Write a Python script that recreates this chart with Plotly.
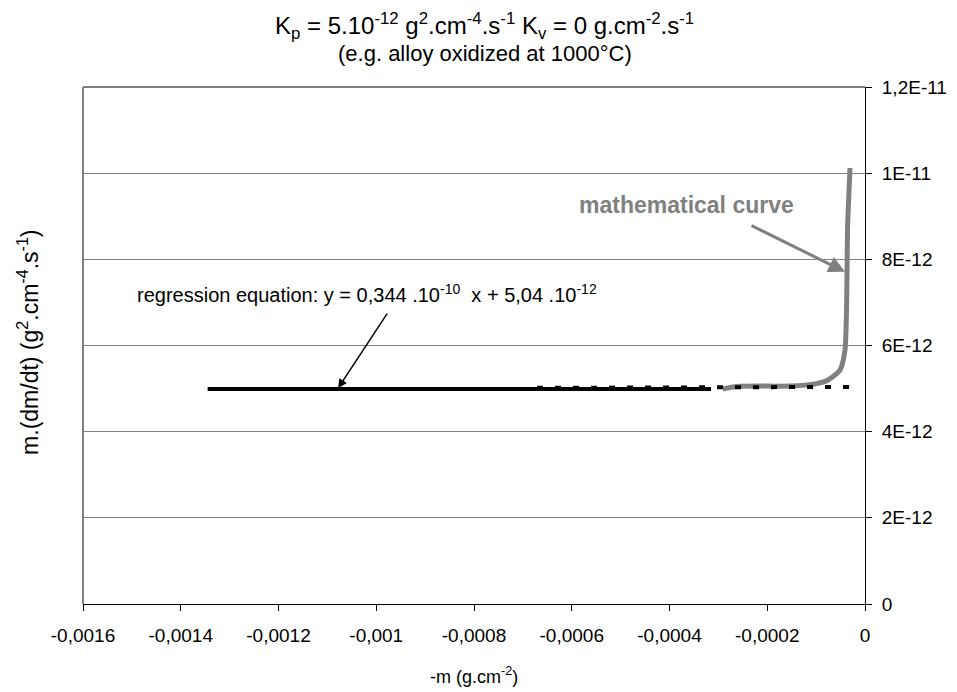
import plotly.graph_objects as go

# ── Data ──────────────────────────────────────────────────────────────────────
# experimental points (black, flat part)
exp_x = [-0.001345, -0.00110, -0.00080, -0.00050, -0.000315]
exp_y = [4.99e-12, 4.99e-12, 4.99e-12, 4.99e-12, 4.99e-12]

# mathematical curve (grey)
math_x = [-0.000291, -0.000262, -0.000153, -0.000102, -0.0000757,
          -0.0000512, -0.0000409, -0.0000374, -0.0000358, -0.0000307]
math_y = [4.99e-12, 5.05e-12, 5.06e-12, 5.11e-12, 5.20e-12,
          5.43e-12, 5.90e-12, 7.06e-12, 8.68e-12, 1.012e-11]

# linear regression trendline (dotted)
trend_x = [-0.000671, -0.0000307]
trend_y = [5.017e-12, 5.039e-12]

x_ticks = [-0.0016, -0.0014, -0.0012, -0.001, -0.0008, -0.0006, -0.0004, -0.0002, 0]
x_labels = ["-0,0016", "-0,0014", "-0,0012", "-0,001", "-0,0008",
            "-0,0006", "-0,0004", "-0,0002", "0"]
y_ticks = [0, 2e-12, 4e-12, 6e-12, 8e-12, 1e-11, 1.2e-11]
y_labels = ["0", "2E-12", "4E-12", "6E-12", "8E-12", "1E-11", "1,2E-11"]

FONT = "Liberation Sans, Arial, sans-serif"
GREY = "#808080"
BLACK = "#000000"

# plot area is 782 x 517 px
PW, PH = 782, 517

fig = go.Figure()

fig.add_trace(go.Scatter(x=exp_x, y=exp_y, mode="lines",
                         line=dict(color=BLACK, width=4), showlegend=False))
fig.add_trace(go.Scatter(x=math_x, y=math_y, mode="lines",
                         line=dict(color=GREY, width=5, shape="spline", smoothing=0.6),
                         showlegend=False))
fig.add_trace(go.Scatter(x=trend_x, y=trend_y, mode="lines",
                         line=dict(color=BLACK, width=4, dash="6px,12px"),
                         showlegend=False))

# ── Frame: black top, grey left ──────────────────────────────────────────────
fig.add_shape(type="line", xref="paper", yref="paper", x0=0, x1=1, y0=1, y1=1,
              line=dict(color=BLACK, width=1))
fig.add_shape(type="line", xref="paper", yref="paper", x0=0, x1=0, y0=0, y1=1,
              line=dict(color=GREY, width=2))

# ── Titles and labels ─────────────────────────────────────────────────────────
fig.add_annotation(
    xref="paper", yref="paper", x=0.514, y=1 + 61 / PH, showarrow=False,
    text="K<sub>p</sub> = 5.10<sup>-12</sup> g<sup>2</sup>.cm<sup>-4</sup>.s<sup>-1</sup> "
         "K<sub>v</sub> = 0 g.cm<sup>-2</sup>.s<sup>-1</sup>",
    font=dict(family=FONT, size=24, color=BLACK), xanchor="center", yanchor="middle")
fig.add_annotation(
    xref="paper", yref="paper", x=0.5137, y=1 + 34 / PH, showarrow=False,
    text="(e.g. alloy oxidized at 1000°C)",
    font=dict(family=FONT, size=22, color=BLACK), xanchor="center", yanchor="middle")
fig.add_annotation(
    xref="paper", yref="paper", x=-55 / PW, y=0.505, showarrow=False, textangle=-90,
    text="m.(dm/dt) (g<sup>2</sup>.cm<sup>-4</sup>.s<sup>-1</sup>)",
    font=dict(family=FONT, size=23, color=BLACK), xanchor="center", yanchor="middle")
fig.add_annotation(
    xref="paper", yref="paper", x=0.5, y=-71 / PH, showarrow=False,
    text="-m (g.cm<sup>-2</sup>)",
    font=dict(family=FONT, size=18, color=BLACK), xanchor="center", yanchor="middle")

fig.add_annotation(
    x=-0.0000409, y=7.71e-12, ax=-95, ay=-47, axref="pixel", ayref="pixel",
    showarrow=True, arrowhead=2, arrowsize=1.1, arrowwidth=3, arrowcolor=GREY,
    text="", standoff=0)
fig.add_annotation(
    xref="paper", yref="paper", x=603 / PW, y=(604 - 205) / PH, showarrow=False,
    text="<b>mathematical curve</b>",
    font=dict(family=FONT, size=23, color=GREY), xanchor="center", yanchor="middle")

fig.add_annotation(
    x=-0.001078, y=5.01e-12, ax=50, ay=-76, axref="pixel", ayref="pixel",
    showarrow=True, arrowhead=2, arrowsize=1.2, arrowwidth=1.5, arrowcolor=BLACK,
    text="", standoff=0)
fig.add_annotation(
    xref="paper", yref="paper", x=284 / PW, y=(604 - 293) / PH, showarrow=False,
    text="regression equation: y = 0,344 .10<sup>-10</sup>  x + 5,04 .10<sup>-12</sup>",
    font=dict(family=FONT, size=20, color=BLACK), xanchor="center", yanchor="middle")

fig.update_layout(
    width=941, height=680,
    margin=dict(l=75, r=84, t=79, b=84),
    plot_bgcolor="white", paper_bgcolor="white",
    font=dict(family=FONT, size=19, color=BLACK),
    showlegend=False,
    xaxis=dict(range=[-0.0016, 0], tickvals=x_ticks, ticktext=x_labels,
               showgrid=False, zeroline=False, showline=True, automargin=False,
               linecolor=BLACK, linewidth=1, ticks="outside", ticklen=6,
               tickcolor=BLACK, ticklabelstandoff=8,
               tickfont=dict(family=FONT, size=19, color=BLACK)),
    yaxis=dict(range=[0, 1.2e-11], tickvals=y_ticks, ticktext=y_labels,
               side="right", showgrid=True, gridcolor=GREY, gridwidth=1,
               zeroline=False, showline=True, linecolor=BLACK, linewidth=1,
               automargin=False,
               ticks="outside", ticklen=6, tickcolor=BLACK, ticklabelstandoff=6,
               tickfont=dict(family=FONT, size=19, color=BLACK)),
)

fig.write_html("out.html")
